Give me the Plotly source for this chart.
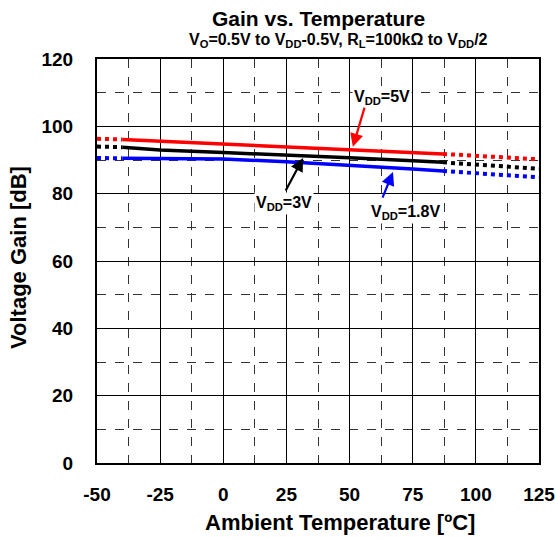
import plotly.graph_objects as go

# Data
temp_solid = [-40, -25, 0, 25, 50, 75, 87]
gain_5v = [96.1, 95.6, 94.7, 93.9, 93.0, 92.2, 91.8]
gain_3v = [93.8, 93.0, 92.2, 91.5, 90.7, 89.8, 89.3]
gain_18v = [90.5, 90.5, 90.3, 89.5, 88.5, 87.3, 86.7]

temp_lo = [-50, -40]
gain_5v_lo = [96.3, 96.1]
gain_3v_lo = [94.0, 93.8]
gain_18v_lo = [90.6, 90.5]

temp_hi = [87, 125]
gain_5v_hi = [91.8, 90.2]
gain_3v_hi = [89.3, 87.4]
gain_18v_hi = [86.7, 84.9]

x_ticks = [-50, -25, 0, 25, 50, 75, 100, 125]
y_ticks = [0, 20, 40, 60, 80, 100, 120]

colors = {"5": "#ff0000", "3": "#000000", "1.8": "#0000ff"}
FAM = "Liberation Sans, Arial, sans-serif"

fig = go.Figure()
series = [
    ("5", gain_5v, gain_5v_lo, gain_5v_hi),
    ("3", gain_3v, gain_3v_lo, gain_3v_hi),
    ("1.8", gain_18v, gain_18v_lo, gain_18v_hi),
]
for name, g, glo, ghi in series:
    c = colors[name]
    fig.add_trace(go.Scatter(x=temp_solid, y=g, mode="lines",
                             line=dict(color=c, width=3.5), showlegend=False))
    fig.add_trace(go.Scatter(x=temp_lo, y=glo, mode="lines",
                             line=dict(color=c, width=4, dash="dot"), showlegend=False))
    fig.add_trace(go.Scatter(x=temp_hi, y=ghi, mode="lines",
                             line=dict(color=c, width=4, dash="dot"), showlegend=False))

font_t = dict(family=FAM, size=19, color="black")

fig.update_xaxes(range=[-50, 125], tickvals=x_ticks, ticktext=[f"<b>{v}</b>" for v in x_ticks],
                 showgrid=True, gridcolor="black", gridwidth=1,
                 showline=True, linecolor="black", linewidth=2, mirror=True,
                 ticks="outside", ticklen=13, tickcolor="rgba(0,0,0,0)",
                 zeroline=False, automargin=False, ticklabeloverflow="allow",
                 minor=dict(dtick=12.5, showgrid=True, gridcolor="#333333", griddash="dash", gridwidth=1),
                 tickfont=font_t)
fig.update_yaxes(range=[0, 120], tickvals=y_ticks, ticktext=[f"<b>{v}</b>" for v in y_ticks],
                 showgrid=True, gridcolor="black", gridwidth=1,
                 showline=True, linecolor="black", linewidth=2, mirror=True,
                 ticks="outside", ticklen=18, tickcolor="rgba(0,0,0,0)",
                 zeroline=False, automargin=False, ticklabeloverflow="allow",
                 minor=dict(dtick=10, showgrid=True, gridcolor="#333333", griddash="dash", gridwidth=1),
                 tickfont=font_t)

annots = [
    # (text, tx, ty, head_x, head_y, tail_x, tail_y, color)
    ("<b>V<sub>DD</sub>=5V</b>", 62.8, 108.7, 51.3, 93.9, 56.1, 106.0, colors["5"]),
    ("<b>V<sub>DD</sub>=3V</b>", 24.0, 77.2, 31.6, 90.6, 24.4, 80.5, colors["3"]),
    ("<b>V<sub>DD</sub>=1.8V</b>", 72.3, 74.5, 67.2, 86.4, 62.8, 78.4, colors["1.8"]),
]
for text, tx, ty, hx, hy, ax, ay, c in annots:
    fig.add_annotation(x=tx, y=ty, text=text, showarrow=False, bgcolor="white",
                       font=dict(family=FAM, size=16, color="black"),
                       borderpad=1)
    fig.add_annotation(x=hx, y=hy, ax=ax, ay=ay, axref="x", ayref="y", xref="x", yref="y",
                       text="", showarrow=True, arrowhead=2, arrowsize=1.2, arrowwidth=2.2,
                       arrowcolor=c)

# Titles as paper annotations
fig.add_annotation(xref="paper", yref="paper", x=0.5, y=1, yshift=41, yanchor="middle",
                   text="<b>Gain vs. Temperature</b>", showarrow=False,
                   font=dict(family=FAM, size=21, color="black"))
fig.add_annotation(xref="paper", yref="paper", x=0.5, y=1, xshift=20, yshift=19, yanchor="middle",
                   text="<b>V<sub>O</sub>=0.5V to V<sub>DD</sub>-0.5V, R<sub>L</sub>=100kΩ to V<sub>DD</sub>/2</b>",
                   showarrow=False, font=dict(family=FAM, size=16, color="black"))
fig.add_annotation(xref="paper", yref="paper", x=0.5, y=0, xshift=22, yshift=-59, yanchor="middle",
                   text="<b>Ambient Temperature [ºC]</b>", showarrow=False,
                   font=dict(family=FAM, size=22, color="black"))
fig.add_annotation(xref="paper", yref="paper", x=0, y=0.5, xshift=-79, yshift=3, xanchor="center",
                   text="<b>Voltage Gain [dB]</b>", showarrow=False, textangle=-90,
                   font=dict(family=FAM, size=22, color="black"))

fig.update_layout(
    width=555, height=539,
    margin=dict(l=97, r=16, t=59, b=76),
    paper_bgcolor="white", plot_bgcolor="white",
)

fig.write_html("out.html")
